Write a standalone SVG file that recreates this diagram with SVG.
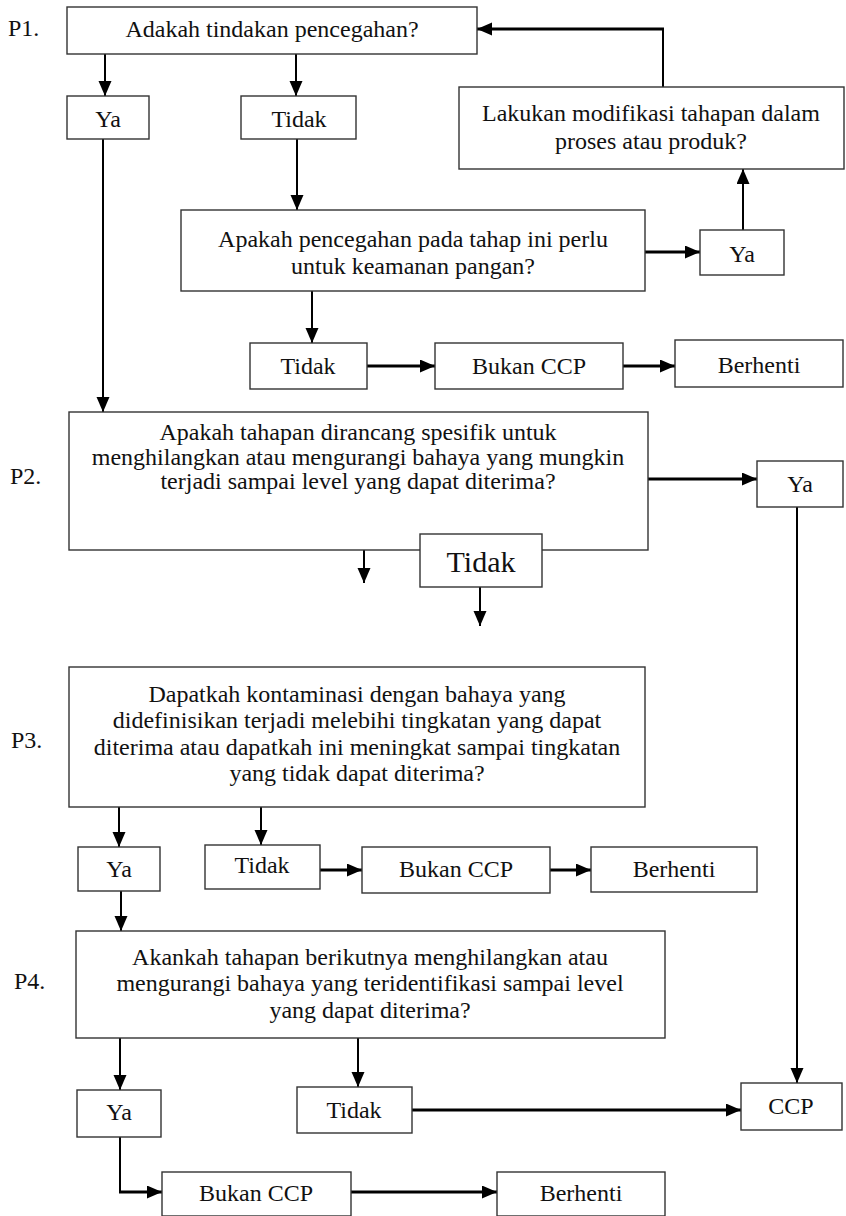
<svg xmlns="http://www.w3.org/2000/svg" width="846" height="1216" viewBox="0 0 846 1216">
<defs>
<marker id="ah" markerUnits="userSpaceOnUse" markerWidth="16" markerHeight="14" refX="15" refY="6.5" orient="auto">
<path d="M0,0 L15,6.5 L0,13 z" fill="#000"/>
</marker>
<style>
rect{fill:#fff;stroke:#333;stroke-width:1.4}
text{font-family:"Liberation Serif","Times New Roman",serif;font-size:24px;fill:#111;text-anchor:middle}
.lbl{text-anchor:start}
.c{fill:none;stroke:#000;stroke-width:2}
.t{stroke-width:3}
</style>
</defs>
<rect x="0" y="0" width="846" height="1216" style="fill:#fff;stroke:none"/>
<g id="connectors">
<path class="c" d="M105,54 V96" marker-end="url(#ah)"/>
<path class="c" d="M296,54 V96" marker-end="url(#ah)"/>
<path class="c" d="M103,139 V412" marker-end="url(#ah)"/>
<path class="c" d="M297,139 V210" marker-end="url(#ah)"/>
<path class="c t" d="M645,252 H700" marker-end="url(#ah)"/>
<path class="c" d="M743,230 V169" marker-end="url(#ah)"/>
<path class="c" d="M663,87 V29"/>
<path class="c t" d="M664,29 H477" marker-end="url(#ah)"/>
<path class="c" d="M312,291 V343" marker-end="url(#ah)"/>
<path class="c t" d="M367,366 H435" marker-end="url(#ah)"/>
<path class="c t" d="M623,366 H675" marker-end="url(#ah)"/>
<path class="c t" d="M648,479 H757" marker-end="url(#ah)"/>
<path class="c" d="M797,507 V1083" marker-end="url(#ah)"/>
<path class="c" d="M364,550 V583" marker-end="url(#ah)"/>
<path class="c" d="M480,587 V626" marker-end="url(#ah)"/>
<path class="c" d="M119,807 V847" marker-end="url(#ah)"/>
<path class="c" d="M261,807 V845" marker-end="url(#ah)"/>
<path class="c t" d="M320,870 H362" marker-end="url(#ah)"/>
<path class="c t" d="M550,870 H591" marker-end="url(#ah)"/>
<path class="c" d="M121,891 V931" marker-end="url(#ah)"/>
<path class="c" d="M120,1038 V1090" marker-end="url(#ah)"/>
<path class="c" d="M358,1038 V1087" marker-end="url(#ah)"/>
<path class="c t" d="M412,1110 H741" marker-end="url(#ah)"/>
<path class="c" d="M120,1137 V1192"/>
<path class="c t" d="M119,1192 H162" marker-end="url(#ah)"/>
<path class="c t" d="M351,1192 H497" marker-end="url(#ah)"/>
</g>
<g id="labels">
<text class="lbl" x="8" y="36">P1.</text>
<text class="lbl" x="10" y="484">P2.</text>
<text class="lbl" x="11" y="748">P3.</text>
<text class="lbl" x="14" y="989">P4.</text>
</g>
<g id="p1"><rect x="67" y="7" width="410" height="47"/><text x="272" y="37">Adakah tindakan pencegahan?</text></g>
<g id="ya1"><rect x="67" y="96" width="82" height="43"/><text x="108" y="127">Ya</text></g>
<g id="tidak1"><rect x="241" y="96" width="115" height="43"/><text x="299" y="127">Tidak</text></g>
<g id="modifikasi"><rect x="459" y="87" width="385" height="82"/><text x="651" y="121">Lakukan modifikasi tahapan dalam</text><text x="651" y="149">proses atau produk?</text></g>
<g id="perlu"><rect x="181" y="210" width="464" height="81"/><text x="413" y="247">Apakah pencegahan pada tahap ini perlu</text><text x="413" y="274">untuk keamanan pangan?</text></g>
<g id="ya2"><rect x="700" y="230" width="84" height="45"/><text x="742" y="262">Ya</text></g>
<g id="tidak2"><rect x="250" y="343" width="117" height="46"/><text x="308" y="374">Tidak</text></g>
<g id="bukan1"><rect x="435" y="343" width="188" height="46"/><text x="529" y="374">Bukan CCP</text></g>
<g id="berhenti1"><rect x="675" y="340" width="168" height="47"/><text x="759" y="373">Berhenti</text></g>
<g id="p2"><rect x="69" y="412" width="579" height="138"/><text x="358" y="440">Apakah tahapan dirancang spesifik untuk</text><text x="358" y="464.5">menghilangkan atau mengurangi bahaya yang mungkin</text><text x="358" y="489">terjadi sampai level yang dapat diterima?</text></g>
<g id="ya3"><rect x="757" y="461" width="86" height="46"/><text x="800" y="492">Ya</text></g>
<g id="tidak-p2"><rect x="420" y="534" width="122" height="53"/><text x="481" y="572" style="font-size:30px">Tidak</text></g>
<g id="p3"><rect x="69" y="667" width="576" height="140"/><text x="357" y="702">Dapatkah kontaminasi dengan bahaya yang</text><text x="357" y="728">didefinisikan terjadi melebihi tingkatan yang dapat</text><text x="357" y="755">diterima atau dapatkah ini meningkat sampai tingkatan</text><text x="357" y="781">yang tidak dapat diterima?</text></g>
<g id="ya4"><rect x="78" y="847" width="82" height="44"/><text x="119" y="877">Ya</text></g>
<g id="tidak3"><rect x="205" y="845" width="115" height="44"/><text x="262" y="873">Tidak</text></g>
<g id="bukan2"><rect x="362" y="847" width="188" height="46"/><text x="456" y="877">Bukan CCP</text></g>
<g id="berhenti2"><rect x="591" y="847" width="166" height="45"/><text x="674" y="877">Berhenti</text></g>
<g id="p4"><rect x="76" y="931" width="589" height="107"/><text x="370" y="965">Akankah tahapan berikutnya menghilangkan atau</text><text x="370" y="991">mengurangi bahaya yang teridentifikasi sampai level</text><text x="370" y="1018">yang dapat diterima?</text></g>
<g id="ya5"><rect x="77" y="1090" width="84" height="47"/><text x="119" y="1120">Ya</text></g>
<g id="tidak4"><rect x="297" y="1087" width="115" height="46"/><text x="354" y="1118">Tidak</text></g>
<g id="ccp"><rect x="741" y="1083" width="101" height="47"/><text x="791" y="1114">CCP</text></g>
<g id="bukan3"><rect x="162" y="1172" width="189" height="44"/><text x="256" y="1201">Bukan CCP</text></g>
<g id="berhenti3"><rect x="497" y="1172" width="168" height="44"/><text x="581" y="1201">Berhenti</text></g>
</svg>
